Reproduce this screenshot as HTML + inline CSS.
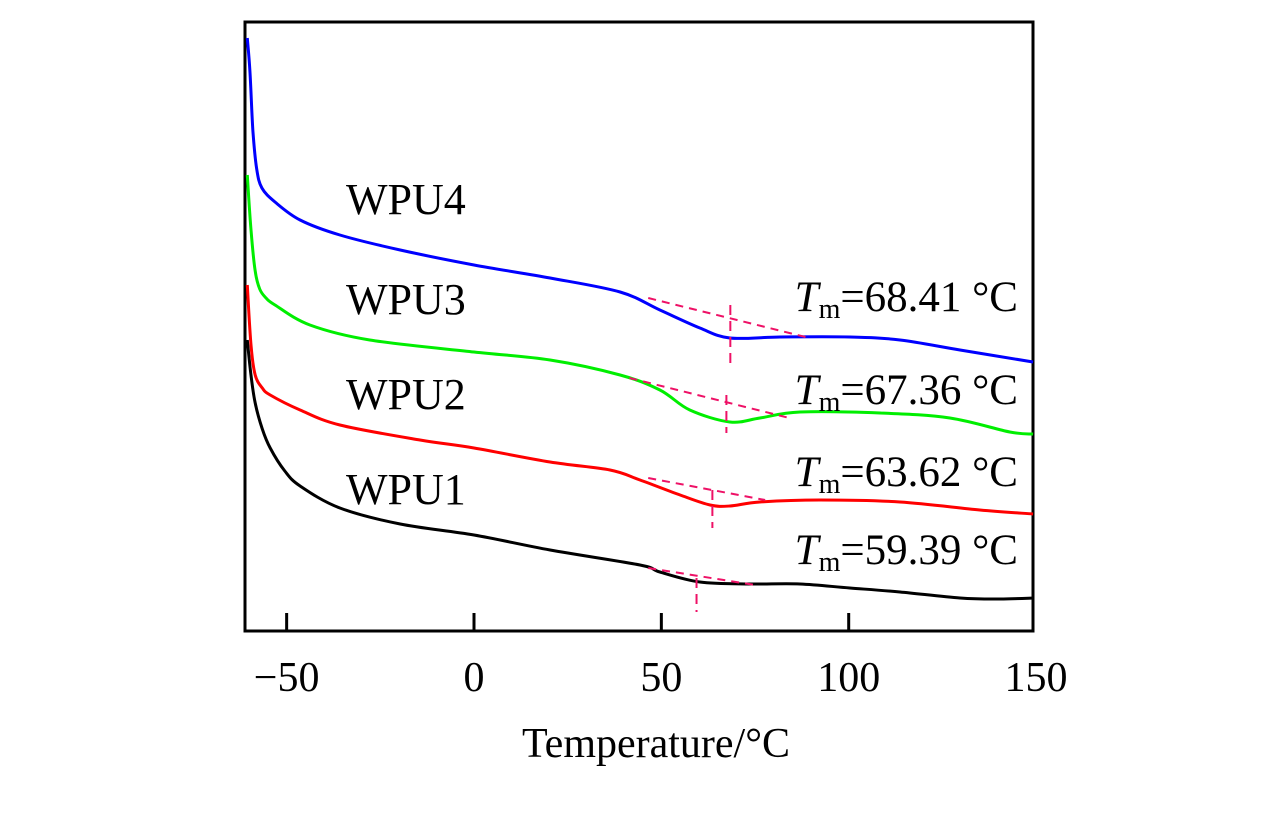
<!DOCTYPE html>
<html><head><meta charset="utf-8"><style>
html,body{margin:0;padding:0;background:#fff;}
svg text{font-family:"Liberation Serif",serif;fill:#000;}
</style></head><body>
<svg id="chart" width="1276" height="811" xmlns="http://www.w3.org/2000/svg">
<rect x="245" y="22" width="788" height="609" fill="none" stroke="#000" stroke-width="3"/>
<g id="ticks"></g>
<g id="series"></g>
<g id="annot"></g>
<g font-size="44">
<text x="346" y="214">WPU4</text>
<text x="346" y="314">WPU3</text>
<text x="346" y="409">WPU2</text>
<text x="346" y="504">WPU1</text>
</g>
<g font-size="43" text-anchor="end">
<text x="1018" y="311"><tspan font-style="italic">T</tspan><tspan font-size="28" dy="7">m</tspan><tspan dy="-7">=68.41 °C</tspan></text>
<text x="1018" y="404"><tspan font-style="italic">T</tspan><tspan font-size="28" dy="7">m</tspan><tspan dy="-7">=67.36 °C</tspan></text>
<text x="1018" y="486"><tspan font-style="italic">T</tspan><tspan font-size="28" dy="7">m</tspan><tspan dy="-7">=63.62 °C</tspan></text>
<text x="1018" y="564"><tspan font-style="italic">T</tspan><tspan font-size="28" dy="7">m</tspan><tspan dy="-7">=59.39 °C</tspan></text>
</g>
<text x="656" y="757" font-size="42" text-anchor="middle">Temperature/°C</text>
</svg>
<script>
const xTicks = [-50, 0, 50, 100];
const xTickLabels = ["\u221250", "0", "50", "100", "150"];
const xLabelValues = [-50, 0, 50, 100, 150];
const tempsBlack = [-60.5,-59.5,-58.4,-56.5,-54.4,-50.5,-46.4,-35.8,-19.7,0,20.3,44.3,49.6,60.3,73.7,87,100.3,113.7,129.7,140.4,149.2];
const wpu1 = [29.1,25.5,22.8,20.2,18.3,16.0,14.5,12.3,10.7,9.6,8.1,6.6,5.9,4.9,4.7,4.7,4.3,3.9,3.3,3.2,3.3];
const tempsRed = [-60.5,-59.5,-58.4,-56.5,-54.4,-46.4,-35.8,-14.4,0,20.3,36.3,44.3,55,63,68.3,76.3,92.3,113.7,135,149.2];
const wpu2 = [34.6,28.5,25.6,24.3,23.6,22.1,20.6,19.1,18.3,16.9,16.1,15.1,13.6,12.6,12.5,12.9,13.1,12.9,12.1,11.7];
const tempsGreen = [-60.5,-59.5,-58.4,-57.2,-55.5,-53.1,-43.8,-27.8,0,20.3,39,49.6,57.6,68.3,76.3,87,108.4,127,143,149.2];
const wpu3 = [45.6,40,36,34.2,33.3,32.6,30.6,29.1,27.9,27.1,25.6,24.1,22.1,20.9,21.3,21.9,21.8,21.3,19.9,19.7];
const tempsBlue = [-60.5,-59.8,-59.0,-58.0,-56.6,-53.1,-46.4,-35.8,-19.7,0,20.3,39,49.6,60.3,68.3,81.7,100.3,113.7,129.7,149.2];
const wpu4 = [59.3,56,50,46.2,44.3,42.9,41.1,39.6,38.1,36.6,35.3,33.9,32.1,30.3,29.3,29.4,29.4,29.1,28.1,26.9];
// tangent annotations: [t1,v1,t2,v2, tm, vTop, vBottom]
const tangents4 = [46.5,33.3,88.5,29.4,68.41,32.6,26.6];
const tangents3 = [41.5,25.3,84.2,21.3,67.36,23.6,19.8];
const tangents2 = [46.5,15.3,77.7,13.1,63.62,14.1,10.3];
const tangents1 = [46.5,6.3,75.0,4.6,59.39,5.3,1.9];

const NS="http://www.w3.org/2000/svg";
const xS = t => 474 + t*3.747;
const yS = v => 631 - v*10;
const tg=document.getElementById('ticks');
xTicks.forEach(t=>{
  const l=document.createElementNS(NS,'line');
  l.setAttribute('x1',xS(t));l.setAttribute('x2',xS(t));l.setAttribute('y1',631);l.setAttribute('y2',613);
  l.setAttribute('stroke','#000');l.setAttribute('stroke-width','3');
  
  
  tg.appendChild(l);
});
xLabelValues.forEach((t,i)=>{
  const tx=document.createElementNS(NS,'text');
  tx.setAttribute('x',xS(t));tx.setAttribute('y',691);tx.setAttribute('font-size','42');tx.setAttribute('text-anchor','middle');
  tx.textContent=xTickLabels[i];
  
  
  tg.appendChild(tx);
});
function smooth(pts){
  let d='M'+pts[0][0].toFixed(1)+','+pts[0][1].toFixed(1);
  for(let i=0;i<pts.length-1;i++){
    const p0=pts[i-1]||pts[i],p1=pts[i],p2=pts[i+1],p3=pts[i+2]||p2;
    const c1=[p1[0]+(p2[0]-p0[0])/6,p1[1]+(p2[1]-p0[1])/6];
    const c2=[p2[0]-(p3[0]-p1[0])/6,p2[1]-(p3[1]-p1[1])/6];
    d+='C'+c1[0].toFixed(1)+','+c1[1].toFixed(1)+' '+c2[0].toFixed(1)+','+c2[1].toFixed(1)+' '+p2[0].toFixed(1)+','+p2[1].toFixed(1);
  }
  return d;
}
const sg=document.getElementById('series');
[[tempsBlack,wpu1,'#000','wpu1-line'],[tempsRed,wpu2,'#ff0000','wpu2-line'],[tempsGreen,wpu3,'#00ee00','wpu3-line'],[tempsBlue,wpu4,'#0000ff','wpu4-line']].forEach(s=>{
  const p=document.createElementNS(NS,'path');
  p.setAttribute('d',smooth(s[0].map((t,i)=>[xS(t),yS(s[1][i])])));
  p.setAttribute('fill','none');p.setAttribute('stroke',s[2]);p.setAttribute('stroke-width','3');p.setAttribute('stroke-linejoin','round');
  
  
  sg.appendChild(p);
});
const ag=document.getElementById('annot');
[tangents4,tangents3,tangents2,tangents1].forEach(a=>{
  const l=document.createElementNS(NS,'line');
  l.setAttribute('x1',xS(a[0]));l.setAttribute('y1',yS(a[1]));l.setAttribute('x2',xS(a[2]));l.setAttribute('y2',yS(a[3]));
  l.setAttribute('stroke','#ee1166');l.setAttribute('stroke-width','2');l.setAttribute('stroke-dasharray','8,6');
  
  
  ag.appendChild(l);
  const v=document.createElementNS(NS,'line');
  v.setAttribute('x1',xS(a[4]));v.setAttribute('x2',xS(a[4]));v.setAttribute('y1',yS(a[5]));v.setAttribute('y2',yS(a[6]));
  v.setAttribute('stroke','#ee1166');v.setAttribute('stroke-width','2');v.setAttribute('stroke-dasharray','10,6');
  
  
  ag.appendChild(v);
});
</script>
</body></html>
